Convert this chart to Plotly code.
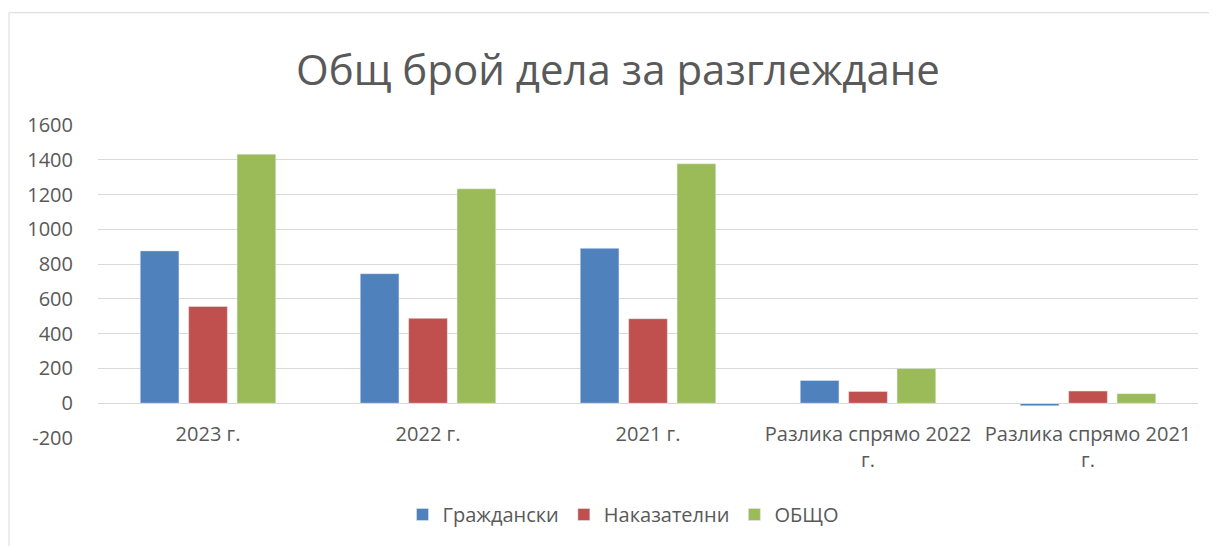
import plotly.graph_objects as go

categories = ["2023 г.", "2022 г.", "2021 г.", "Разлика спрямо 2022<br>г.", "Разлика спрямо 2021<br>г."]
civil = [876, 745, 891, 131, -15]
criminal = [556, 488, 486, 68, 70]
total = [1432, 1233, 1377, 199, 55]
tick_vals = [-200, 0, 200, 400, 600, 800, 1000, 1200, 1400, 1600]
tick_labels = ["-200", "0", "200", "400", "600", "800", "1000", "1200", "1400", "1600"]

FONT = "Open Sans"
GREY = "#595959"

# the page body has an 8px margin; the figure is sized so that it ends at the window edge
OFF = 8
W, H = 1217 - OFF, 546 - OFF
L, T = 98 - OFF, 125 - OFF
PW, PH = 1100, 315
R, B = W - L - PW, H - T - PH

fig = go.Figure()
fig.add_bar(name="Граждански", x=categories, y=civil, marker_color="#4F81BD")
fig.add_bar(name="Наказателни", x=categories, y=criminal, marker_color="#C0504D")
fig.add_bar(name="ОБЩО", x=categories, y=total, marker_color="#9BBB59")

fig.update_layout(
    width=W, height=H,
    margin=dict(l=L, r=R, t=T, b=B),
    paper_bgcolor="white", plot_bgcolor="white",
    barmode="group", bargap=0.34, bargroupgap=0.2,
    font=dict(family=FONT, color=GREY, size=20),
    title=dict(text="Общ брой дела за разглеждане", x=(618 - OFF) / W, xanchor="center",
               y=1 - (70 - OFF) / H, yanchor="middle", font=dict(size=42, color=GREY, family=FONT)),
    legend=dict(orientation="h", x=(623 - 98) / PW, xanchor="center", y=-(517 - 440) / PH,
                yanchor="middle", font=dict(size=20, color=GREY), itemwidth=30,
                traceorder="normal"),
    showlegend=True,
)
fig.update_yaxes(range=[-200, 1600], tickvals=tick_vals, ticktext=tick_labels, showgrid=True,
                 gridcolor="#d9d9d9", gridwidth=1, zeroline=False, showline=False, ticks="",
                 ticklabelstandoff=24, tickfont=dict(size=20, color=GREY))
fig.update_xaxes(anchor="free", position=200 / 1800, showline=True, linecolor="#d9d9d9",
                 linewidth=1, ticks="", showgrid=False, ticklabelstandoff=13,
                 tickfont=dict(size=20, color=GREY), tickangle=0)

# chart frame
fig.add_shape(type="rect", xref="paper", yref="paper", x0=(9 - 98) / PW, x1=1.2,
              y0=-0.6, y1=(440 - 12) / PH, line=dict(color="#d9d9d9", width=1),
              fillcolor="rgba(0,0,0,0)", layer="below")

fig.write_html("out.html")
